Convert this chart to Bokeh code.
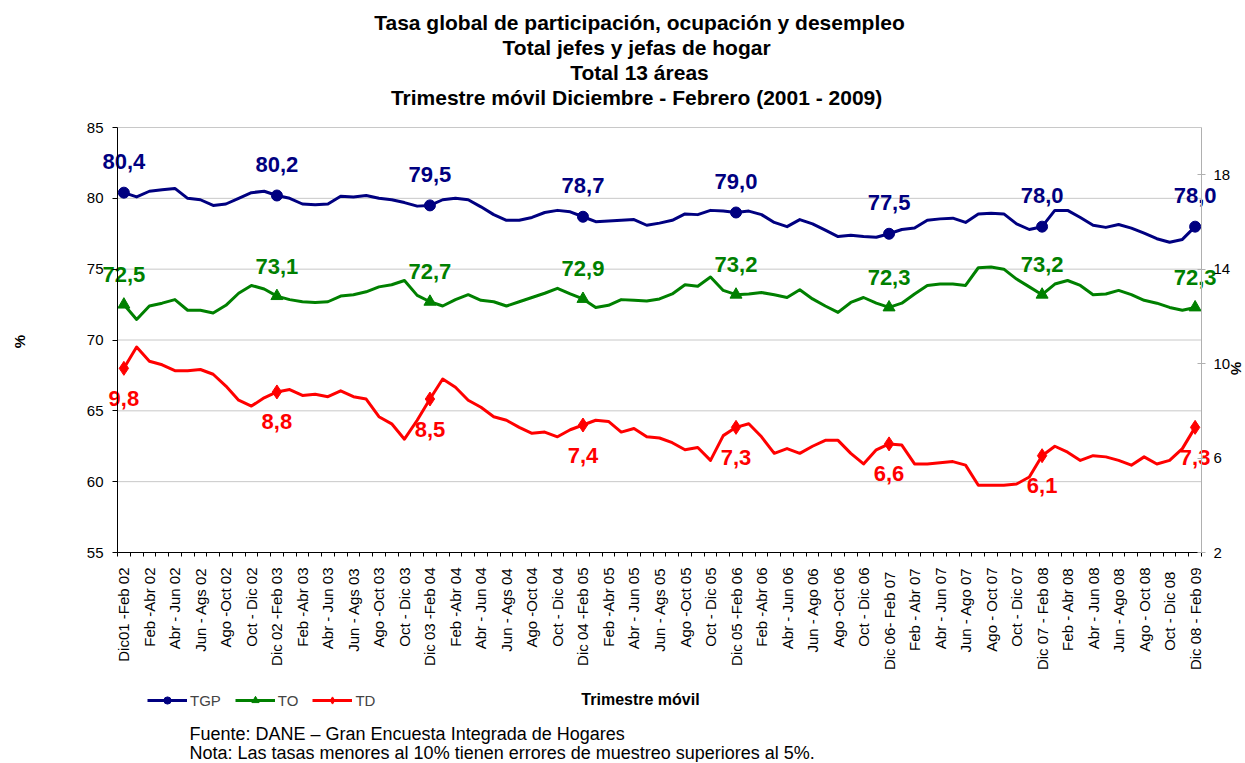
import math
from bokeh.plotting import figure
from bokeh.models import Range1d, LinearAxis, FixedTicker, Label, Legend, LegendItem
from bokeh.embed import file_html
from bokeh.resources import INLINE
from bokeh.core.properties import value

FONT = "Liberation Sans"
NAVY = "#000080"
GREEN = "#008000"
RED = "#FF0000"
GRID = "#c8c8c8"
BORDER = "#b0b0b0"

# ---------------- data ----------------
tick_labels = [
    "Dic01 -Feb 02", "Feb -Abr 02", "Abr - Jun 02", "Jun - Ags 02", "Ago -Oct 02", "Oct - Dic 02",
    "Dic 02 -Feb 03", "Feb -Abr 03", "Abr - Jun 03", "Jun - Ags 03", "Ago -Oct 03", "Oct - Dic 03",
    "Dic 03 -Feb 04", "Feb -Abr 04", "Abr - Jun 04", "Jun - Ags 04", "Ago -Oct 04", "Oct - Dic 04",
    "Dic 04 -Feb 05", "Feb -Abr 05", "Abr - Jun 05", "Jun - Ags 05", "Ago -Oct 05", "Oct - Dic 05",
    "Dic 05 -Feb 06", "Feb -Abr 06", "Abr - Jun 06", "Jun - Ago 06", "Ago -Oct 06", "Oct - Dic 06",
    "Dic  06- Feb 07", "Feb - Abr 07", "Abr - Jun 07", "Jun - Ago 07", "Ago - Oct 07", "Oct - Dic 07",
    "Dic 07 - Feb 08", "Feb - Abr 08", "Abr - Jun 08", "Jun - Ago 08", "Ago - Oct 08", "Oct - Dic  08",
    "Dic 08 - Feb 09",
]

tgp = [80.4, 80.1, 80.5, 80.6, 80.7, 80.0, 79.9, 79.5, 79.6, 80.0,
       80.4, 80.5, 80.2, 80.0, 79.6, 79.55, 79.6, 80.15, 80.1, 80.2,
       80.0, 79.9, 79.7, 79.45, 79.5, 79.9, 80.0, 79.9, 79.4, 78.85,
       78.45, 78.45, 78.65, 79.0, 79.15, 79.05, 78.7, 78.35, 78.4, 78.45,
       78.5, 78.1, 78.25, 78.45, 78.9, 78.85, 79.15, 79.1, 79.0, 79.1,
       78.85, 78.3, 78.0, 78.5, 78.2, 77.75, 77.3, 77.4, 77.3, 77.25,
       77.5, 77.8, 77.9, 78.45, 78.55, 78.6, 78.3, 78.9, 78.95, 78.9,
       78.2, 77.8, 78.0, 79.15, 79.15, 78.65, 78.1, 77.95, 78.15, 77.9,
       77.55, 77.15, 76.9, 77.1, 78.0]

to = [72.5, 71.45, 72.4, 72.6, 72.85, 72.1, 72.1, 71.9, 72.45, 73.3,
      73.85, 73.6, 73.1, 72.85, 72.7, 72.65, 72.7, 73.1, 73.2, 73.4,
      73.75, 73.9, 74.2, 73.15, 72.7, 72.4, 72.85, 73.2, 72.8, 72.7,
      72.4, 72.7, 73.0, 73.3, 73.65, 73.25, 72.9, 72.3, 72.45, 72.85,
      72.8, 72.75, 72.9, 73.25, 73.9, 73.8, 74.45, 73.5, 73.2, 73.25,
      73.35, 73.2, 73.0, 73.55, 72.9, 72.4, 71.95, 72.65, 73.0, 72.6,
      72.3, 72.6, 73.25, 73.85, 73.95, 73.95, 73.85, 75.1, 75.15, 75.0,
      74.3, 73.75, 73.2, 73.95, 74.2, 73.85, 73.2, 73.25, 73.5, 73.2,
      72.8, 72.6, 72.3, 72.1, 72.3]

td = [9.8, 10.7, 10.1, 9.95, 9.7, 9.7, 9.75, 9.55, 9.05, 8.45,
      8.2, 8.55, 8.8, 8.9, 8.65, 8.7, 8.6, 8.85, 8.6, 8.5,
      7.75, 7.45, 6.8, 7.6, 8.5, 9.35, 9.0, 8.45, 8.15, 7.75,
      7.6, 7.3, 7.05, 7.1, 6.9, 7.2, 7.4, 7.6, 7.55, 7.1,
      7.25, 6.9, 6.85, 6.65, 6.35, 6.45, 5.9, 6.95, 7.3, 7.45,
      6.9, 6.2, 6.4, 6.2, 6.5, 6.75, 6.75, 6.2, 5.75, 6.35,
      6.6, 6.55, 5.75, 5.75, 5.8, 5.85, 5.7, 4.85, 4.85, 4.85,
      4.9, 5.2, 6.1, 6.5, 6.25, 5.9, 6.1, 6.05, 5.9, 5.7,
      6.05, 5.75, 5.9, 6.4, 7.3]

key_idx = [0, 12, 24, 36, 48, 60, 72, 84]
tgp_labels = ["80,4", "80,2", "79,5", "78,7", "79,0", "77,5", "78,0", "78,0"]
to_labels = ["72,5", "73,1", "72,7", "72,9", "73,2", "72,3", "73,2", "72,3"]
td_labels = ["9,8", "8,8", "8,5", "7,4", "7,3", "6,6", "6,1", "7,3"]

left_ticks = [55, 60, 65, 70, 75, 80, 85]
right_ticks = [2, 6, 10, 14, 18]

titles = [
    "Tasa global de participación, ocupación y desempleo",
    "Total jefes  y jefas de hogar",
    "Total 13 áreas",
    "Trimestre móvil  Diciembre - Febrero (2001 - 2009)",
]
legend_names = ["TGP", "TO", "TD"]
x_title = "Trimestre móvil"
y_title = "%"
source_note = "Fuente: DANE \u2013 Gran Encuesta Integrada de Hogares"
note = "Nota: Las tasas menores al 10% tienen errores de muestreo superiores al 5%."

# ---------------- layout (pixels) ----------------
W, H = 1244, 762
FL, FR, FT, FB = 117, 1201, 127, 552      # plot area inside the canvas
n = len(tgp)
L0, L1 = 55, 85
R0, R1 = 2, 20
sx = (FR - FL) / n
sy = (FB - FT) / (L1 - L0)
sr = (FB - FT) / (R1 - R0)

x_range = Range1d(-0.5 - FL / sx, n - 0.5 + (W - FR) / sx)
y_range = Range1d(L0 - (H - FB) / sy, L1 + FT / sy)
td_range = Range1d(R0 - (H - FB) / sr, R1 + FT / sr)

p = figure(width=W, height=H, output_backend="svg", toolbar_location=None, title=None,
           x_range=x_range, y_range=y_range,
           min_border_left=0, min_border_right=0, min_border_top=0, min_border_bottom=0)
p.extra_y_ranges = {"td": td_range}
p.background_fill_color = "white"
p.border_fill_color = "white"
p.outline_line_color = None
p.xgrid.visible = False
p.ygrid.visible = False

# x axis
xa = p.xaxis[0]
xa.fixed_location = L0
xa.bounds = (-0.5, n - 0.5)
xa.ticker = FixedTicker(ticks=list(range(0, n, 2)),
                        minor_ticks=[i - 0.5 for i in range(n + 1)])
xa.major_label_overrides = {i * 2: lab for i, lab in enumerate(tick_labels)}
xa.major_label_orientation = math.pi / 2
xa.major_tick_line_color = None
xa.major_tick_out = 4
xa.major_tick_in = 0
xa.major_label_standoff = 11
xa.minor_tick_in = 0
xa.minor_tick_out = 4
xa.minor_tick_line_color = "black"
xa.axis_line_color = "black"
xa.major_label_text_font = FONT
xa.major_label_text_font_size = "15px"
xa.major_label_text_color = "black"

# left axis
ya = p.yaxis[0]
ya.fixed_location = -0.5
ya.bounds = (L0, L1)
ya.ticker = FixedTicker(ticks=left_ticks)
ya.minor_tick_line_color = None
ya.major_tick_in = 0
ya.major_tick_out = 5
ya.major_label_standoff = 9
ya.axis_line_color = "black"
ya.major_tick_line_color = "black"
ya.major_label_text_font = FONT
ya.major_label_text_font_size = "15px"
ya.major_label_text_color = "black"

# right axis (TD)
ra = LinearAxis(y_range_name="td", ticker=FixedTicker(ticks=right_ticks))
ra.fixed_location = n - 0.5
ra.bounds = (R0, R1)
ra.axis_line_color = BORDER
ra.major_tick_line_color = BORDER
ra.major_tick_in = 4
ra.major_tick_out = 4
ra.minor_tick_line_color = None
ra.major_label_standoff = 8
ra.major_label_text_font = FONT
ra.major_label_text_font_size = "15px"
ra.major_label_text_color = "black"
p.add_layout(ra, "right")

# horizontal grid lines (incl. top border) between the two axes
p.segment(x0=[-0.5] * len(left_ticks), x1=[n - 0.5] * len(left_ticks),
          y0=left_ticks, y1=left_ticks, line_color=GRID, line_width=1)

# series
x = list(range(n))
l1 = p.line(x, tgp, line_color=NAVY, line_width=3, line_join="round")
l2 = p.line(x, to, line_color=GREEN, line_width=3, line_join="round")
l3 = p.line(x, td, line_color=RED, line_width=3, line_join="round", y_range_name="td")

kx = [x[i] for i in key_idx]
m1 = p.scatter(kx, [tgp[i] for i in key_idx], marker="circle", size=11,
               fill_color=NAVY, line_color=NAVY)
m2 = p.scatter(kx, [to[i] for i in key_idx], marker="triangle", size=12,
               fill_color=GREEN, line_color=GREEN)
m3 = p.scatter(kx, [td[i] for i in key_idx], marker="diamond", size=14,
               fill_color=RED, line_color=RED, y_range_name="td")

lab_kw = dict(text_font=value(FONT), text_font_style="bold", text_font_size="22px",
              text_align="center", text_baseline="middle")
p.text(kx, [tgp[i] for i in key_idx], text=tgp_labels, text_color=NAVY, y_offset=-31, **lab_kw)
p.text(kx, [to[i] for i in key_idx], text=to_labels, text_color=GREEN, y_offset=-30, **lab_kw)
p.text(kx, [td[i] for i in key_idx], text=td_labels, text_color=RED, y_offset=30,
       y_range_name="td", **lab_kw)

# legend
legend = Legend(items=[LegendItem(label=legend_names[0], renderers=[l1, m1]),
                       LegendItem(label=legend_names[1], renderers=[l2, m2]),
                       LegendItem(label=legend_names[2], renderers=[l3, m3])],
                location=(147, H - 709), orientation="horizontal",
                border_line_color=None, background_fill_alpha=0,
                padding=0, margin=0, spacing=14, label_standoff=3,
                glyph_width=40, glyph_height=18, label_height=18,
                label_text_font=FONT, label_text_font_size="15px")
p.add_layout(legend)


def put(text, px, py, size, bold=False, align="left", angle=0.0):
    p.add_layout(Label(x=px, y=H - py, x_units="screen", y_units="screen", text=text,
                       text_font=FONT, text_font_style="bold" if bold else "normal",
                       text_font_size=size, text_align=align, text_baseline="middle",
                       text_color="black", angle=angle))


for t, cy in zip(titles, [22, 47, 72, 97]):
    put(t, 639, cy, "21px", bold=True, align="center")

put(x_title, 640, 699, "16px", bold=True, align="center")
put(source_note, 189, 733, "18px")
put(note, 189, 752, "18px")
put(y_title, 18.5, 341, "15px", bold=True, align="center", angle=math.pi / 2)
put(y_title, 1236, 368, "15px", bold=True, align="center", angle=-math.pi / 2)

open("out.html", "w").write(file_html(p, INLINE))
